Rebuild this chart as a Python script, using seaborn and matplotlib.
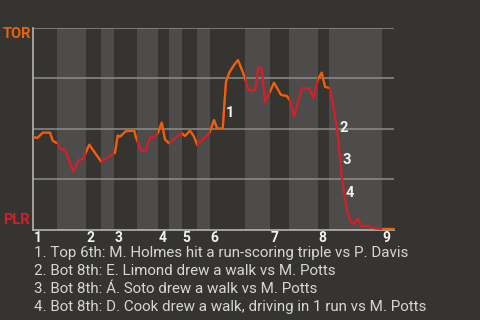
import matplotlib
matplotlib.use("Agg")
import matplotlib.pyplot as plt
import seaborn as sns
import pandas as pd
from matplotlib.patches import Rectangle

# ---------------- data ----------------
away_team = "TOR"
home_team = "PLR"

# play index (game progress) and TOR win probability
plays = [0.0, 1.7, 3.9, 6.8, 7.9, 9.2, 10.0, 11.1, 12.9, 16.1, 18.3, 19.9, 22.5,
         27.3, 30.8, 32.8, 33.9, 34.8, 37.1, 40.5, 41.1, 42.1, 43.2, 45.1, 46.1,
         47.2, 48.0, 49.9, 51.5, 52.8, 54.4, 56.8, 59.5, 60.8, 62.8, 64.4, 65.7,
         67.9, 70.5, 72.4, 73.7, 75.9, 76.4, 77.2, 78.5, 80.4, 82.0, 84.1, 84.8,
         86.1, 88.8, 90.1, 91.5, 92.8, 94.8, 96.4, 99.2, 101.5, 102.8, 104.4,
         107.5, 110.4, 112.3, 113.9, 115.5, 116.8, 118.8, 120.1, 121.5, 122.4,
         123.5, 124.5, 125.5, 127.2, 128.5, 129.9, 131.2, 133.5, 136.8, 139.5,
         144.4]
win_prob = [0.460, 0.453, 0.480, 0.480, 0.440, 0.430, 0.427, 0.397, 0.394, 0.285,
            0.344, 0.347, 0.420, 0.335, 0.364, 0.380, 0.466, 0.460, 0.487, 0.490,
            0.460, 0.427, 0.390, 0.390, 0.435, 0.463, 0.453, 0.477, 0.530, 0.446,
            0.427, 0.453, 0.477, 0.463, 0.490, 0.460, 0.419, 0.447, 0.477, 0.543,
            0.500, 0.500, 0.596, 0.734, 0.779, 0.817, 0.842, 0.776, 0.751, 0.693,
            0.690, 0.805, 0.796, 0.633, 0.684, 0.729, 0.668, 0.663, 0.640, 0.561,
            0.701, 0.701, 0.651, 0.746, 0.779, 0.709, 0.701, 0.609, 0.510, 0.410,
            0.261, 0.178, 0.095, 0.036, 0.025, 0.053, 0.015, 0.015, 0.003, 0.000,
            0.000]

innings = [1, 2, 3, 4, 5, 6, 7, 8, 9]
top_start = [0.0, 21.2, 32.4, 50.0, 59.6, 70.8, 94.8, 114.0, 139.6]
bot_start = [9.6, 27.2, 41.6, 54.4, 65.6, 84.8, 102.4, 118.4]
game_end = 144.4

event_ids = ["1", "2", "3", "4"]
event_play = [76.6, 121.9, 123.1, 124.5]
event_wp = [0.578, 0.502, 0.344, 0.181]
event_text = [
    "1. Top 6th: M. Holmes hit a run-scoring triple vs P. Davis",
    "2. Bot 8th: E. Limond drew a walk vs M. Potts",
    "3. Bot 8th: Á. Soto drew a walk vs M. Potts",
    "4. Bot 8th: D. Cook drew a walk, driving in 1 run vs M. Potts",
]

# ---------------- style ----------------
BG = "#353430"
BAND = "#4d4c4a"
ORANGE = "#e8640c"
RED = "#d71e28"
GRID = "#8c8c8a"
AXIS = "#b4b4b2"
TEXT = "#d6d6d4"

sns.set_style("dark", {"axes.facecolor": BG, "figure.facecolor": BG})
plt.rcParams["font.family"] = ["Roboto", "DejaVu Sans"]

fig = plt.figure(figsize=(4.8, 3.2), dpi=100)
fig.patch.set_facecolor(BG)
ax = fig.add_axes([33 / 480, 1 - 230 / 320, 361 / 480, (230 - 28.3) / 320])
ax.set_facecolor(BG)

# bottom-half shading
bot_end = top_start[1:]
for s, e in zip(bot_start, bot_end):
    ax.axvspan(s, e, color=BAND, lw=0, zorder=0)

# gridlines
for g in [0.25, 0.5, 0.75, 1.0]:
    ax.axhline(g, color=GRID, lw=1.1, zorder=1)

df = pd.DataFrame({"play": plays, "wp": win_prob})

# red line (bottom halves)
sns.lineplot(data=df, x="play", y="wp", color=RED, lw=1.6, ax=ax,
             estimator=None, sort=False, zorder=3)
# orange line over each top half-inning
top_end = bot_start + [game_end + 2]
for s, e in zip(top_start, top_end):
    sns.lineplot(data=df, x="play", y="wp", color=ORANGE, lw=1.6, ax=ax,
                 estimator=None, sort=False, zorder=4)
    rect = Rectangle((s, -1), e - s, 3, transform=ax.transData)
    ax.lines[-1].set_clip_path(rect)

ax.set_xlim(0, game_end)
ax.set_ylim(-0.005, 1.0)
ax.set_xlabel("")
ax.set_ylabel("")
ax.set_xticks([])
ax.set_yticks([])
ax.grid(False)
for side in ["top", "right"]:
    ax.spines[side].set_visible(False)
for side in ["left", "bottom"]:
    ax.spines[side].set_visible(True)
    ax.spines[side].set_color(AXIS)
    ax.spines[side].set_linewidth(1.2)
    ax.spines[side].set_zorder(2)

# inning labels
for inn, s in zip(innings, top_start):
    ax.annotate(str(inn), xy=(s, 0), xycoords=("data", "axes fraction"),
                xytext=(0.5, -0.5), textcoords="offset points",
                ha="left", va="top", color="#f2f2f0", fontsize=10,
                fontweight="bold", annotation_clip=False)

# event markers
for lab, x, y in zip(event_ids, event_play, event_wp):
    ax.annotate(lab, xy=(x, y), xytext=(4, 0), textcoords="offset points",
                ha="center", va="center", color="#f2f2f0", fontsize=10.5,
                fontweight="bold", zorder=6)

# team labels
fig.text(3 / 480, 1 - 34 / 320, away_team, color=ORANGE, fontsize=10.5,
         fontweight="bold", ha="left", va="center")
fig.text(3 / 480, 1 - 220 / 320, home_team, color=RED, fontsize=10.5,
         fontweight="bold", ha="left", va="center")

# footnotes
for i, t in enumerate(event_text):
    fig.text(34 / 480, 1 - (253.5 + 17.7 * i) / 320, t, color=TEXT,
             fontsize=10.9, ha="left", va="center")

fig.savefig("out.png", dpi=100, facecolor=BG)
